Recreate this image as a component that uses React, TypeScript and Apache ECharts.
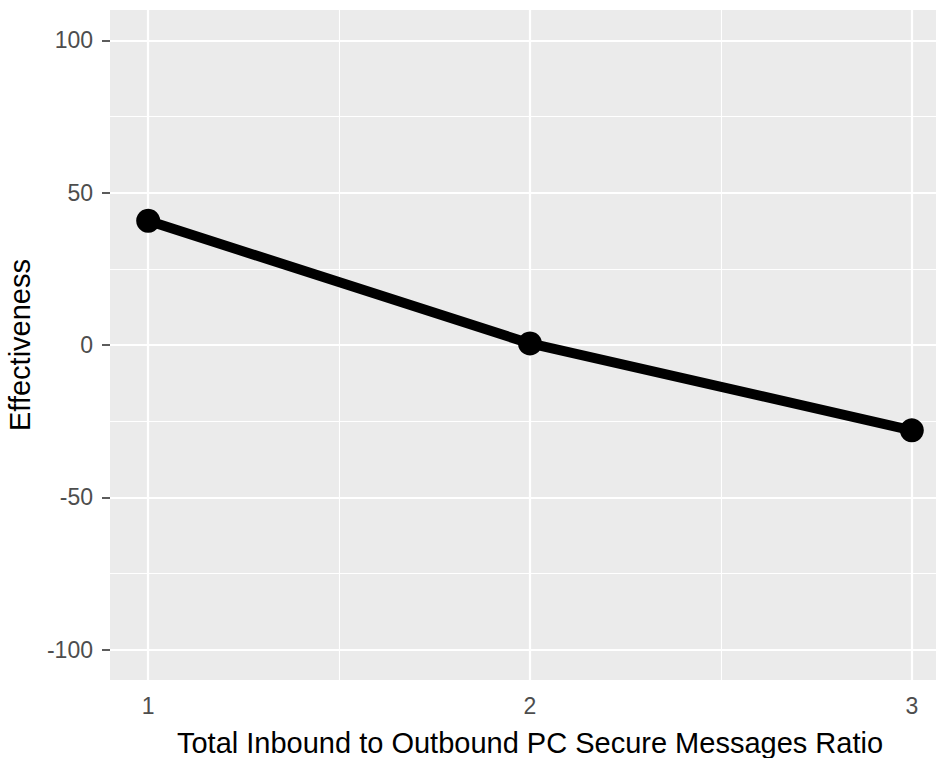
import React, { useEffect, useRef } from "react";
import * as echarts from "echarts";

const xValues = [1, 2, 3];
const yValues = [40.8, 0.5, -28];
const xTicks = [1, 2, 3];
const yTicks = [-100, -50, 0, 50, 100];
const xMinor = [1.5, 2.5];
const yMinor = [-75, -25, 25, 75];

const FONT = "Liberation Sans, Arial, sans-serif";

export default function App() {
  const ref = useRef<HTMLDivElement>(null);
  useEffect(() => {
    if (!ref.current) return;
    const chart = echarts.init(ref.current, undefined, { renderer: "svg" });
    const gridLines: any[] = [];
    xMinor.forEach((v) => gridLines.push({ xAxis: v, lineStyle: { color: "#FFFFFF", width: 1.1, type: "solid" } }));
    yMinor.forEach((v) => gridLines.push({ yAxis: v, lineStyle: { color: "#FFFFFF", width: 1.1, type: "solid" } }));
    xTicks.forEach((v) => gridLines.push({ xAxis: v, lineStyle: { color: "#FFFFFF", width: 2.2, type: "solid" } }));
    yTicks.forEach((v) => gridLines.push({ yAxis: v, lineStyle: { color: "#FFFFFF", width: 2.2, type: "solid" } }));
    const points = xValues.map((x, i) => [x, yValues[i]]);
    chart.setOption({
      animation: false,
      textStyle: { fontFamily: FONT },
      grid: {
        left: 110,
        top: 10,
        width: 840,
        height: 670,
        show: true,
        backgroundColor: "#EBEBEB",
        borderWidth: 0,
        containLabel: false,
        outerBoundsMode: "none",
      },
      xAxis: {
        type: "value",
        min: 0.9,
        max: 3.1,
        axisLine: { show: false },
        splitLine: { show: false },
        axisTick: { show: true, customValues: xTicks, length: 8, lineStyle: { color: "#333333", width: 1.6 } },
        axisLabel: { customValues: xTicks, color: "#4D4D4D", fontSize: 23, margin: 14, fontFamily: FONT },
        name: "Total Inbound to Outbound PC Secure Messages Ratio",
        nameLocation: "middle",
        nameGap: 48,
        nameTextStyle: { color: "#000000", fontSize: 29, fontFamily: FONT },
      },
      yAxis: {
        type: "value",
        min: -110,
        max: 110,
        axisLine: { show: false },
        splitLine: { show: false },
        axisTick: { show: true, customValues: yTicks, length: 8, lineStyle: { color: "#333333", width: 1.6 } },
        axisLabel: { customValues: yTicks, color: "#4D4D4D", fontSize: 23, margin: 17, fontFamily: FONT },
        name: "Effectiveness",
        nameLocation: "middle",
        nameGap: 76,
        nameRotate: 90,
        nameTextStyle: { color: "#000000", fontSize: 29, fontFamily: FONT },
      },
      series: [
        {
          type: "line",
          data: points,
          z: 1,
          symbol: "none",
          lineStyle: { opacity: 0 },
          silent: true,
          markLine: {
            silent: true,
            z: 1,
            symbol: ["none", "none"],
            label: { show: false },
            data: gridLines,
            animation: false,
          },
        },
        {
          type: "line",
          data: points,
          z: 3,
          symbol: "circle",
          symbolSize: 24,
          lineStyle: { color: "#000000", width: 10 },
          itemStyle: { color: "#000000" },
        },
      ],
    });
    return () => chart.dispose();
  }, []);
  return (
    <div
      ref={ref}
      style={{ position: "absolute", left: 0, top: 0, width: 936, height: 758, background: "#FFFFFF" }}
    />
  );
}
